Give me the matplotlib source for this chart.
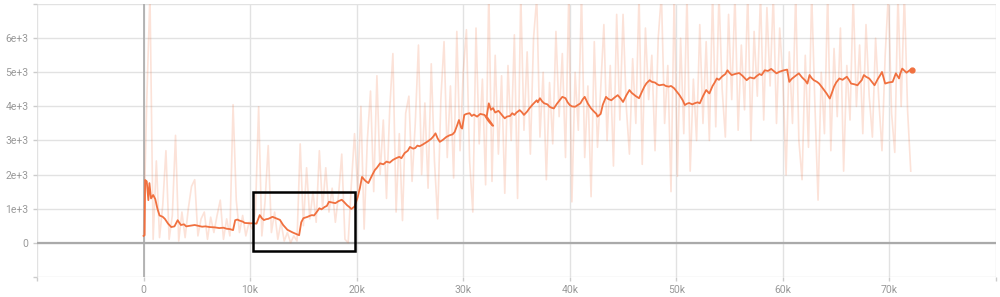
import numpy as np
import matplotlib
matplotlib.use("Agg")
import matplotlib.pyplot as plt
from matplotlib.patches import Rectangle

plt.rcParams['font.family'] = ['Roboto', 'DejaVu Sans']

# raw values, one every 300 steps from 0 to 72k
raw_vals = [
    # 0 - 9.9k
    200, 4150, 7300, 100, 2400, 150, 1100, 2700, 100, 800, 3150, 50, 900, 150,
    1000, 1650, 1850, 200, 700, 900, 100, 750, 300, 800, 1250, 100, 700, 200,
    4050, 1250, 300, 800, 200, 600,
    # 10.2k - 19.8k
    400, 900, 3990, 200, 1200, 2850, 300, 900, 100, 600, 50, 300, 0, 200, 50,
    2900, 500, 2200, 700, 1500, 600, 2700, 1000, 2200, 900, 1600, 600, 1400,
    2600, 100, 0, 1700, 3200,
    # 20.1k - 30k
    1500, 4000, 400, 3000, 4450, 1500, 4900, 2000, 3600, 1300, 3900, 5550, 900,
    3200, 650, 3800, 4300, 1800, 3500, 5800, 2000, 4100, 1600, 5250, 2400, 700,
    4200, 5900, 2500, 4600, 1900, 6200, 2700, 5000,
    # 30.3k - 39.9k
    6250, 2400, 900, 6300, 2900, 4800, 1700, 7400, 1800, 5500, 2600, 4900, 1450,
    5200, 3000, 6100, 1300, 7300, 3300, 5600, 2600, 6000, 7200, 3100, 5000, 1850,
    4700, 2900, 6200, 3700, 5550, 2500, 7200,
    # 40.2k - 49.8k
    1200, 5000, 3300, 7300, 2500, 4600, 1350, 5900, 2800, 4500, 6400, 3000, 5200,
    2250, 6700, 3600, 6700, 4000, 2600, 5400, 3500, 7300, 2300, 6300, 4200, 5500,
    2700, 6000, 7300, 3500, 5200, 1500, 7300,
    # 50.1k - 60k
    1950, 6000, 3200, 7300, 2100, 4800, 3000, 6400, 3500, 5900, 3000, 7300, 3400,
    7300, 4500, 3100, 6700, 4200, 7300, 3300, 5800, 3900, 7300, 3000, 6200, 4300,
    7300, 3600, 6900, 4600, 7300, 3500, 6300, 4800,
    # 60.3k - 72k
    1990, 5600, 3500, 7300, 3000, 1850, 5500, 2800, 7300, 4100, 1250, 5000, 3200,
    7300, 2700, 5700, 3700, 6300, 2100, 5200, 3600, 7300, 4000, 5800, 3200, 6400,
    4300, 3100, 6000, 4200, 2700, 5500, 7300, 3800, 2650, 7300, 4000, 7300, 3900,
    2100,
]
raw_steps = np.linspace(0, 72000, len(raw_vals))

# smoothed curve as (k steps, value); the run restarts near 32k
smooth_points = [
    (0.0, 200), (0.1, 220), (0.15, 1840), (0.3, 1800), (0.45, 1250), (0.55, 1750),
    (0.7, 1300), (0.9, 1400), (1.1, 1280), (1.3, 1000), (1.5, 800), (1.8, 760),
    (2.0, 700), (2.3, 560), (2.6, 460), (2.9, 480), (3.2, 660), (3.5, 520),
    (3.8, 540), (4.0, 480), (4.4, 500), (4.8, 520), (5.1, 500), (5.5, 470),
    (5.8, 480), (6.2, 460), (6.7, 450), (7.1, 430), (7.5, 440), (7.8, 410),
    (8.1, 400), (8.4, 370), (8.6, 660), (8.8, 680), (9.0, 650), (9.3, 620),
    (9.5, 580), (9.8, 575), (10.0, 570), (10.3, 570), (10.6, 560), (10.9, 810),
    (11.1, 720), (11.3, 665), (11.5, 690), (11.7, 700), (12.1, 760), (12.4, 720),
    (12.8, 670), (13.1, 520), (13.5, 380), (13.8, 330), (14.0, 300), (14.3, 260),
    (14.6, 220), (14.8, 600), (15.0, 720), (15.2, 740), (15.4, 760), (15.6, 790),
    (15.8, 810), (16.0, 800), (16.2, 880), (16.5, 1010), (16.7, 980), (17.0, 1050),
    (17.2, 1080), (17.4, 1200), (17.7, 1180), (18.0, 1160), (18.3, 1220),
    (18.6, 1260), (18.8, 1200), (19.1, 1100), (19.3, 1050), (19.5, 990),
    (19.8, 1060), (20.1, 1340), (20.3, 1600), (20.5, 1930), (20.8, 1820),
    (21.1, 1750), (21.4, 1950), (21.7, 2130), (21.9, 2200), (22.2, 2330),
    (22.5, 2300), (22.8, 2380), (23.1, 2350), (23.4, 2430), (23.7, 2480),
    (24.0, 2520), (24.2, 2480), (24.5, 2630), (24.8, 2700), (25.0, 2810),
    (25.3, 2760), (25.5, 2780), (25.7, 2850), (25.9, 2830), (26.2, 2880),
    (26.4, 2920), (26.7, 2980), (27.0, 3050), (27.2, 3120), (27.4, 3210),
    (27.6, 3060), (27.8, 2960), (28.1, 3020), (28.4, 3100), (28.7, 3150),
    (29.0, 3180), (29.2, 3250), (29.4, 3420), (29.6, 3600), (29.8, 3380),
    (29.9, 3350), (30.1, 3750), (30.3, 3780), (30.6, 3800), (30.8, 3720),
    (31.0, 3760), (31.3, 3700), (31.6, 3780), (32.0, 3750), (32.3, 3600),
    (32.5, 3520), (32.8, 3430),
    (32.2, 3700), (32.4, 4090), (32.6, 3900), (32.8, 3950), (33.0, 3820),
    (33.3, 3870), (33.5, 3800), (33.7, 3720), (33.9, 3650), (34.1, 3700),
    (34.4, 3720), (34.6, 3800), (34.8, 3750), (35.0, 3820), (35.3, 3890),
    (35.5, 3830), (35.7, 3750), (36.0, 3850), (36.2, 3940), (36.5, 4050),
    (36.9, 4180), (37.0, 4120), (37.2, 4240), (37.4, 4150), (37.6, 4090),
    (37.9, 4060), (38.1, 3990), (38.3, 3960), (38.5, 3940), (38.8, 4080),
    (39.1, 4200), (39.3, 4280), (39.6, 4240), (39.8, 4120), (40.0, 4040),
    (40.2, 4000), (40.5, 3990), (40.8, 4050), (41.0, 4090), (41.2, 4200),
    (41.4, 4280), (41.7, 4080), (42.0, 3940), (42.3, 3840), (42.5, 3780),
    (42.6, 3700), (42.9, 3780), (43.1, 4050), (43.4, 4280), (43.6, 4220),
    (43.9, 4180), (44.2, 4260), (44.5, 4330), (44.8, 4220), (45.0, 4130),
    (45.3, 4320), (45.6, 4480), (45.8, 4400), (46.0, 4350), (46.2, 4300),
    (46.5, 4240), (46.8, 4450), (47.0, 4580), (47.2, 4680), (47.5, 4770),
    (47.7, 4720), (48.0, 4700), (48.2, 4650), (48.4, 4620), (48.8, 4640),
    (49.0, 4600), (49.3, 4580), (49.5, 4600), (49.8, 4530), (50.0, 4450),
    (50.3, 4330), (50.6, 4180), (50.8, 4040), (51.0, 4080), (51.2, 4100),
    (51.5, 4060), (51.7, 4090), (52.0, 4120), (52.2, 4090), (52.5, 4300),
    (52.8, 4480), (53.1, 4380), (53.4, 4600), (53.6, 4700), (53.8, 4820),
    (54.0, 4780), (54.3, 4880), (54.6, 4950), (54.8, 5060), (55.0, 4980),
    (55.2, 4920), (55.5, 4950), (55.9, 4980), (56.2, 4900), (56.6, 4770),
    (56.9, 4850), (57.3, 4820), (57.5, 4880), (57.8, 4950), (58.0, 4920),
    (58.3, 5060), (58.6, 5040), (58.9, 5100), (59.2, 5020), (59.4, 4970),
    (59.7, 5020), (60.1, 5060), (60.4, 5080), (60.6, 4720), (60.8, 4800),
    (61.0, 4850), (61.2, 4900), (61.5, 4970), (61.8, 4850), (62.1, 4760),
    (62.3, 4670), (62.5, 4920), (62.7, 4830), (62.9, 4770), (63.2, 4720),
    (63.4, 4670), (63.7, 4550), (64.1, 4380), (64.4, 4230), (64.6, 4400),
    (64.8, 4580), (65.0, 4700), (65.3, 4820), (65.6, 4780), (66.0, 4870),
    (66.2, 4780), (66.4, 4670), (66.7, 4650), (67.0, 4620), (67.2, 4700),
    (67.4, 4770), (67.6, 4920), (67.8, 4870), (68.1, 4820), (68.4, 4700),
    (68.6, 4620), (68.9, 4800), (69.1, 4900), (69.3, 5010), (69.6, 4670),
    (69.9, 4700), (70.3, 4720), (70.6, 4970), (70.9, 4820), (71.0, 4950),
    (71.2, 5110), (71.4, 5050), (71.6, 4990), (71.9, 5060), (72.1, 5060),
]
smooth_steps = np.array([p[0] for p in smooth_points]) * 1000
smooth_vals = [p[1] for p in smooth_points]

# highlighted region (steps, value)
box_x = [10300, 19800]
box_y = [-250, 1490]

x_ticks = np.arange(-10000, 80001, 10000)
y_ticks = np.arange(-1000, 7001, 1000)
x_labels = ['', '0', '10k', '20k', '30k', '40k', '50k', '60k', '70k', '']
y_labels = ['', '0', '1e+3', '2e+3', '3e+3', '4e+3', '5e+3', '6e+3', '']

orange = '#f0703f'

fig = plt.figure(figsize=(10, 2.97), dpi=100)
ax = fig.add_axes([0.037, 0.068, 0.959, 0.918])

ax.plot(raw_steps, raw_vals, color=orange, alpha=0.2, lw=1.2, zorder=2)
ax.plot(smooth_steps, smooth_vals, color=orange, lw=1.3, zorder=3)
ax.plot(smooth_steps[-1], smooth_vals[-1], 'o', color=orange, ms=3.5, zorder=4)

ax.axhline(0, color='#aaaaaa', lw=1.6, zorder=1)
ax.axvline(0, color='#aaaaaa', lw=1.2, zorder=1)

ax.add_patch(Rectangle((box_x[0], box_y[0]), box_x[1] - box_x[0], box_y[1] - box_y[0],
                       fill=False, edgecolor='black', lw=1.8, zorder=5))

ax.set_xlim(-10000, 80000)
ax.set_ylim(-1000, 7000)
ax.set_xticks(x_ticks)
ax.set_xticklabels(x_labels)
ax.set_yticks(y_ticks)
ax.set_yticklabels(y_labels)
ax.grid(True, color='#e2e2e2', lw=1, zorder=0)
ax.set_axisbelow(True)
for s in ax.spines.values():
    s.set_visible(False)
ax.tick_params(length=3, width=1, color='#cccccc', labelcolor='#999999',
               labelsize=7.5, pad=3)

fig.savefig('out.png', dpi=100)
